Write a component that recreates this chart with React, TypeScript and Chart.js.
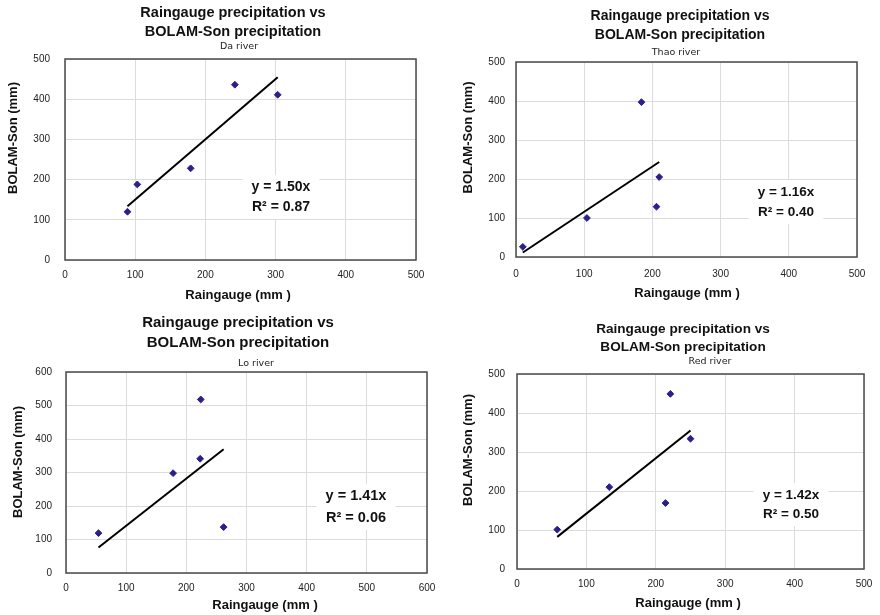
import React, { useEffect, useRef } from "react";
import { Chart, registerables } from "chart.js";

Chart.register(...registerables);

// ---------------- data ----------------
const TITLE_LINES = ["Raingauge precipitation vs", "BOLAM-Son precipitation"];
const X_TITLE = "Raingauge (mm )";
const Y_TITLE = "BOLAM-Son (mm)";

const rivers = ["Da river", "Thao river", "Lo river", "Red river"];

const daRaingauge = [89, 103, 179, 242, 303];
const daBolam = [120, 188, 228, 436, 411];

const thaoRaingauge = [10, 104, 184, 206, 210];
const thaoBolam = [26, 100, 397, 129, 205];

const loRaingauge = [54, 178, 223, 224, 262];
const loBolam = [119, 298, 341, 518, 137];

const redRaingauge = [58, 133, 214, 221, 250];
const redBolam = [101, 210, 169, 449, 334];

const slopes = [1.5, 1.16, 1.41, 1.42];
const rSquared = [0.87, 0.4, 0.06, 0.5];
const axisMax = [500, 500, 600, 500];
const tickStep = 100;

const seriesX = [daRaingauge, thaoRaingauge, loRaingauge, redRaingauge];
const seriesY = [daBolam, thaoBolam, loBolam, redBolam];

// ---------------- layout (positions / styles only) ----------------
type Layout = {
  left: number; top: number; w: number; h: number;
  pad: { left: number; right: number; top: number; bottom: number };
  yW: number; xH: number; yTickPad: number; xTickPad: number;
  titleX: number; titleY: [number, number]; titleSize: number;
  subX: number; subY: number;
  yTitle: [number, number]; xTitle: [number, number];
  annX: number; annY: [number, number]; annSize: number;
};

const EXTRA = 30; // extra canvas width on the right, compensated by padding

const layouts: Layout[] = [
  {
    left: 0, top: 0, w: 440, h: 310,
    pad: { left: 5, right: 24, top: 59, bottom: 7 },
    yW: 60, xH: 43, yTickPad: 15, xTickPad: 9,
    titleX: 233, titleY: [13, 32], titleSize: 14.5,
    subX: 239, subY: 47,
    yTitle: [13, 138], xTitle: [238, 295],
    annX: 281, annY: [187, 207], annSize: 14,
  },
  {
    left: 440, top: 0, w: 440, h: 310,
    pad: { left: 20, right: 23, top: 62, bottom: 9 },
    yW: 56, xH: 44, yTickPad: 11, xTickPad: 11,
    titleX: 240, titleY: [16, 35], titleSize: 14,
    subX: 236, subY: 53,
    yTitle: [28, 137.5], xTitle: [247, 293],
    annX: 346, annY: [192, 212], annSize: 13.5,
  },
  {
    left: 0, top: 310, w: 440, h: 305,
    pad: { left: 5, right: 13, top: 62, bottom: 2 },
    yW: 61, xH: 40, yTickPad: 14, xTickPad: 9,
    titleX: 238, titleY: [12.7, 33.3], titleSize: 15,
    subX: 256, subY: 54,
    yTitle: [18, 152], xTitle: [265, 295],
    annX: 356, annY: [186, 208], annSize: 14.5,
  },
  {
    left: 440, top: 310, w: 440, h: 305,
    pad: { left: 20, right: 16, top: 64, bottom: 6 },
    yW: 57, xH: 40, yTickPad: 12, xTickPad: 9,
    titleX: 243, titleY: [19.3, 37.3], titleSize: 13.6,
    subX: 270, subY: 51.7,
    yTitle: [28, 140], xTitle: [248, 293],
    annX: 351, annY: [185, 204], annSize: 13.5,
  },
];

const SANS = "'Liberation Sans', Arial, Helvetica, sans-serif";
const SUB_FONT = "'DejaVu Sans', Verdana, sans-serif";
const POINT_COLOR = "#2a1f8c";

function makeTextPlugin(i: number) {
  const L = layouts[i];
  return {
    id: "texts" + i,
    beforeDatasetsDraw(chart: any) {
      const ctx = chart.ctx;
      const area = chart.chartArea;
      // annotation background box
      ctx.save();
      ctx.font = `bold ${L.annSize}px ${SANS}`;
      const l1 = `y = ${slopes[i].toFixed(2)}x`;
      const l2 = `R\u00B2 = ${rSquared[i].toFixed(2)}`;
      const w = Math.max(ctx.measureText(l1).width, ctx.measureText(l2).width);
      ctx.fillStyle = "#ffffff";
      ctx.fillRect(L.annX - w / 2 - 9, L.annY[0] - 12, w + 18, L.annY[1] - L.annY[0] + 24);
      ctx.restore();
      // plot border
      ctx.save();
      ctx.strokeStyle = "#4a4a4a";
      ctx.lineWidth = 1.5;
      ctx.strokeRect(area.left, area.top, area.right - area.left, area.bottom - area.top);
      ctx.restore();
    },
    afterDraw(chart: any) {
      const ctx = chart.ctx;
      ctx.save();
      ctx.fillStyle = "#111";
      ctx.textAlign = "center";
      ctx.textBaseline = "middle";
      // titles
      ctx.font = `bold ${L.titleSize}px ${SANS}`;
      ctx.fillText(TITLE_LINES[0], L.titleX, L.titleY[0]);
      ctx.fillText(TITLE_LINES[1], L.titleX, L.titleY[1]);
      // subtitle
      ctx.font = `9.5px ${SUB_FONT}`;
      ctx.fillStyle = "#222";
      ctx.fillText(rivers[i], L.subX, L.subY);
      // axis titles
      ctx.fillStyle = "#111";
      ctx.font = `bold 13px ${SANS}`;
      ctx.fillText(X_TITLE, L.xTitle[0], L.xTitle[1]);
      ctx.save();
      ctx.translate(L.yTitle[0], L.yTitle[1]);
      ctx.rotate(-Math.PI / 2);
      ctx.fillText(Y_TITLE, 0, 0);
      ctx.restore();
      // annotation
      ctx.font = `bold ${L.annSize}px ${SANS}`;
      ctx.fillText(`y = ${slopes[i].toFixed(2)}x`, L.annX, L.annY[0]);
      ctx.fillText(`R\u00B2 = ${rSquared[i].toFixed(2)}`, L.annX, L.annY[1]);
      ctx.restore();
    },
  };
}

function RiverChart({ index }: { index: number }) {
  const ref = useRef<HTMLCanvasElement | null>(null);
  const L = layouts[index];
  const cw = L.w + EXTRA;

  useEffect(() => {
    if (!ref.current) return;
    const xs = seriesX[index];
    const ys = seriesY[index];
    const pts = xs.map((x, k) => ({ x, y: ys[k] }));
    const xMin = Math.min(...xs);
    const xMax = Math.max(...xs);
    const trend = [
      { x: xMin, y: slopes[index] * xMin },
      { x: xMax, y: slopes[index] * xMax },
    ];
    const max = axisMax[index];

    const chart = new Chart(ref.current, {
      type: "scatter",
      data: {
        datasets: [
          {
            label: "trend",
            data: trend,
            showLine: true,
            borderColor: "#000",
            borderWidth: 2,
            pointRadius: 0,
            fill: false,
          } as any,
          {
            label: rivers[index],
            data: pts,
            pointStyle: "rectRot",
            pointRadius: 3.4,
            pointBackgroundColor: POINT_COLOR,
            pointBorderColor: POINT_COLOR,
            pointBorderWidth: 1,
          } as any,
        ],
      },
      options: {
        animation: false,
        responsive: false,
        devicePixelRatio: 1,
        layout: { padding: { ...L.pad, right: L.pad.right + EXTRA } },
        plugins: {
          legend: { display: false },
          tooltip: { enabled: false },
          title: { display: false },
        },
        scales: {
          x: {
            type: "linear",
            min: 0,
            max,
            afterFit: (s: any) => {
              s.height = L.xH;
            },
            ticks: {
              stepSize: tickStep,
              padding: L.xTickPad,
              color: "#222",
              font: { family: SANS, size: 10 },
              maxRotation: 0,
            },
            grid: { color: "#dcdcdc", lineWidth: 1, drawTicks: false },
            border: { display: false },
            title: { display: false },
          },
          y: {
            type: "linear",
            min: 0,
            max,
            afterFit: (s: any) => {
              s.width = L.yW;
            },
            ticks: {
              stepSize: tickStep,
              padding: L.yTickPad,
              color: "#222",
              font: { family: SANS, size: 10 },
            },
            grid: { color: "#dcdcdc", lineWidth: 1, drawTicks: false },
            border: { display: false },
            title: { display: false },
          },
        },
      } as any,
      plugins: [makeTextPlugin(index)],
    });
    return () => chart.destroy();
  }, [index]);

  return (
    <canvas
      ref={ref}
      width={cw}
      height={L.h}
      style={{ position: "absolute", left: L.left, top: L.top, width: cw, height: L.h }}
    />
  );
}

export default function App() {
  return (
    <div
      style={{
        position: "absolute",
        left: 0,
        top: 0,
        width: 880,
        height: 615,
        background: "#ffffff",
        overflow: "hidden",
      }}
    >
      {[0, 1, 2, 3].map((i) => (
        <RiverChart key={i} index={i} />
      ))}
    </div>
  );
}
